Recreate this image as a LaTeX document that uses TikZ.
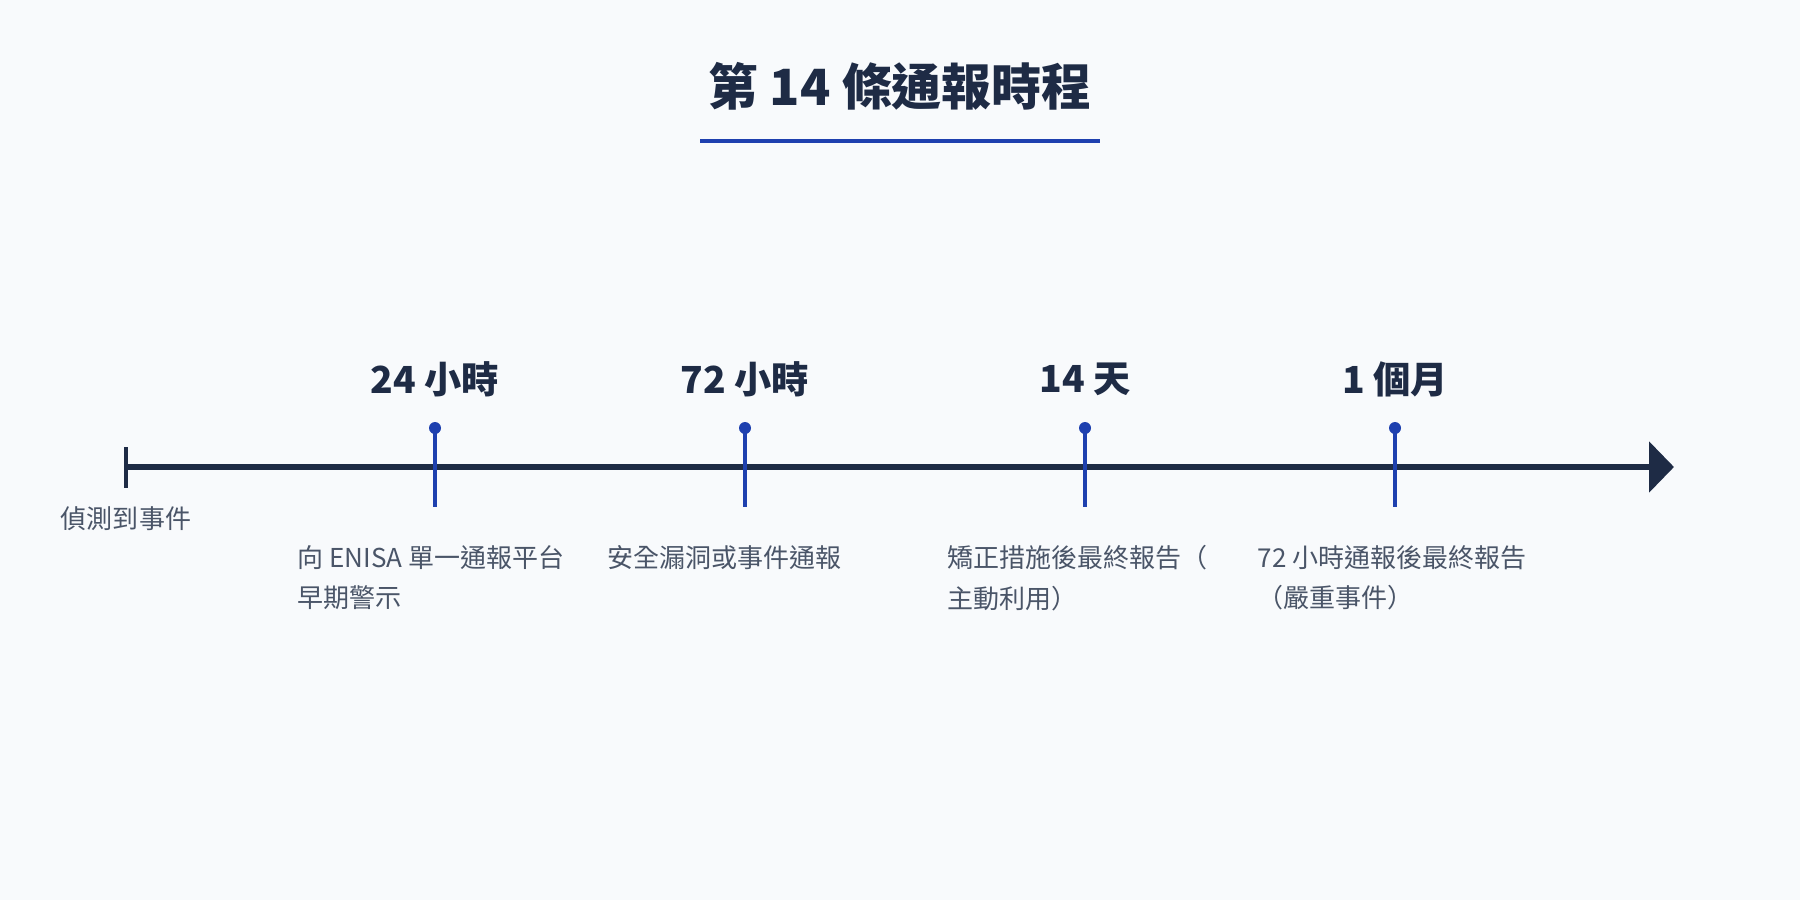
\documentclass[tikz,border=0pt]{standalone}
\usepackage{fontspec}
\setmainfont{Noto Sans CJK TC}
\usetikzlibrary{arrows.meta}
\definecolor{bg}{HTML}{F8FAFC}
\definecolor{navy}{HTML}{1E2B45}
\definecolor{blu}{HTML}{1E40AF}
\definecolor{gry}{HTML}{4A5568}
\tikzset{
 lbl/.style={font=\fontsize{10.6}{13}\selectfont\bfseries, text=navy, anchor=center},
 desc/.style={font=\fontsize{7.4}{11.4}\selectfont, text=gry, anchor=north west, align=left, inner sep=0pt},
 tick/.style={draw=blu, line width=0.45mm},
}
\begin{document}
\begin{tikzpicture}[x=1cm,y=-1cm]
\useasboundingbox[fill=bg] (0,0) rectangle (18,9);
\node[font=\fontsize{14.2}{18}\selectfont\bfseries, text=navy] (title) at (9,0.86) {第 14 條通報時程};
\coordinate (ul1) at (7,1.41); \coordinate (ul2) at (11,1.41);
\draw[blu, line width=0.35mm] (ul1) -- (ul2);
\coordinate (s) at (1.26,4.67); \coordinate (e) at (16.74,4.67);
\draw[navy, line width=0.6mm, -{Triangle[length=0.25cm,width=0.5cm]}] (s) -- (e);
\coordinate (s1) at (1.26,4.47); \coordinate (s2) at (1.26,4.88);
\draw[navy, line width=0.5mm] (s1) -- (s2);
\node[font=\fontsize{7.4}{10}\selectfont, text=gry] (det) at (1.26,5.19) {偵測到事件};
\foreach \n/\x/\t in {a/4.35/24 小時, b/7.45/72 小時, c/10.85/14 天, d/13.95/1 個月}{
 \coordinate (\n t) at (\x,4.28); \coordinate (\n b) at (\x,5.07);
 \draw[tick] (\n t) -- (\n b);
 \fill[blu] (\n t) circle (0.06);
 \node[lbl] (\n l) at (\x,3.79) {\t};
}
\node[desc] (ad) at (2.97,5.45) {向 ENISA 單一通報平台\\早期警示};
\node[desc] (bd) at (6.07,5.45) {安全漏洞或事件通報};
\node[desc] (cd) at (9.47,5.45) {矯正措施後最終報告（\\主動利用）};
\node[desc] (dd) at (12.57,5.45) {72 小時通報後最終報告\\（嚴重事件）};
\end{tikzpicture}
\end{document}
